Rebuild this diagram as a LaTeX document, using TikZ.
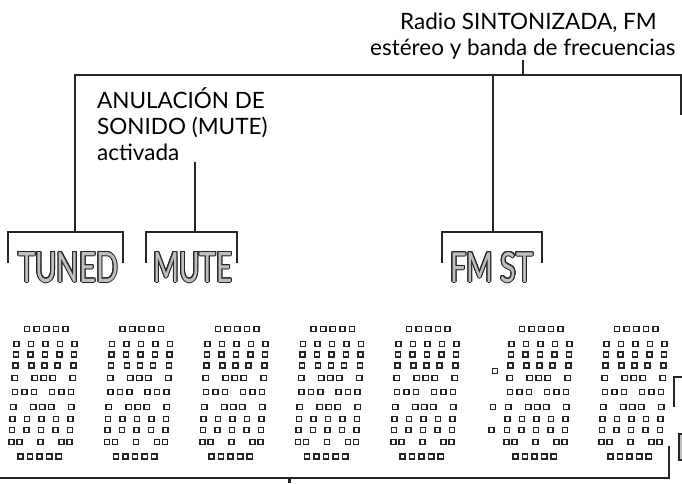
\documentclass[tikz,border=0pt]{standalone}
\usepackage{fontspec}
\setmainfont{Lato}
\usepackage[copies]{contour}
\contourlength{1pt}

\tikzset{
    lead line/.style={
      draw=black!85,
      line width=2.2pt
    },
    seg dot/.style={
      draw=black!85,
      fill=white,
      line width=1.5pt
    },
    call label/.style={
      font=\fontsize{22.5}{26}\selectfont,
      inner sep=0pt
    },
    panel label/.style={
      inner sep=0pt,
      anchor=base west
    }
  }
\newcommand{\panelword}[2]{\contour{black!85}{\color{black!25}\resizebox{#1}{30pt}{#2}}}

\begin{document}
\begin{tikzpicture}[x=1pt, y=-1pt]
      \useasboundingbox (0,0) rectangle (682,483);

      % ラベル
      \node[call label, anchor=base west] (radiotop) at (400,29) {Radio SINTONIZADA, FM};
      \node[call label, anchor=base west] (radiobot) at (370,55) {estéreo y banda de frecuencias};
      \node[call label, anchor=base west, align=left] (mutecall) at (97,160) {ANULACIÓN DE\\SONIDO (MUTE)\\activada};

      % 表示の文字
      \node[panel label] (tuned) at (18,282) {\panelword{100pt}{TUNED}};
      \node[panel label] (mute) at (153,282) {\panelword{79pt}{MUTE}};
      \node[panel label] (fmst) at (450,282) {\panelword{83pt}{FM ST}};

      % 括弧と引出線
      \coordinate (tunedtop) at (75,232);
      \coordinate (mutetop) at (195,232);
      \coordinate (fmsttop) at (493,232);
      \coordinate (busleft) at (75,75);
      \coordinate (digitbus) at (289.5,478);
      \draw[lead line] (8,263) |- (123,232) -- (123,263);
      \draw[lead line] (145.7,263) |- (237,232) -- (237,263);
      \draw[lead line] (441.7,263) |- (541.7,232) -- (541.7,263);
      \draw[lead line] (tunedtop) -- (busleft) -- (680.8,75) -- (680.8,115);
      \draw[lead line] (fmsttop) -- (fmsttop |- busleft);
      \draw[lead line] ([yshift=-1pt]radiobot.south) -- (radiobot.south |- busleft);
      \draw[lead line] ([yshift=-2pt]mutecall.south -| mutetop) -- (mutetop);
      \draw[lead line] (0,478) -| (669,446);
      \draw[lead line] (digitbus) -- (289.5,483);
      \draw[lead line] (674,407) |- (682,377);

      % 数字のドット
      \foreach \y/\pts in {329/{-19.2,-9.6,0,9.6,19.2},
                           344/{-29,-14.5,0,14.5,29},
                           354.5/{-29,-14.5,0,14.5,29},
                           365.5/{-29,-13,0,13,29},
                           378/{-29,-9,0,9,29},
                           392/{-28,-18.5,-9,9,18.5,28},
                           407/{-29,-9,0,9,29},
                           419/{-29,-14.5,0,14.5,29},
                           430/{-29,-14.5,0,14.5,29},
                           442/{-29,-21,0,21,29},
                           456.5/{-19.2,-9.6,0,9.6,19.2}}
        \foreach \cx in {43,138.5,234,329.5,425,538,633}
          \foreach \dx in \pts
            \draw[seg dot] ({\cx+\dx+0.053*(392-\y)-2.6},{\y-2.6}) rectangle ++(5.2,5.2);

      % コロン
      \foreach \cx/\y in {495/371, 493/407, 491.5/430}
        \draw[seg dot] (\cx-2.6,\y-2.6) rectangle ++(5.2,5.2);

      % 右端の切れた文字
      \begin{scope}
        \clip (0,0) rectangle (682,483);
        \draw[draw=black!85, fill=black!25, line width=1.2pt] (679,434) rectangle (690,460);
      \end{scope}
    \end{tikzpicture}
\end{document}
